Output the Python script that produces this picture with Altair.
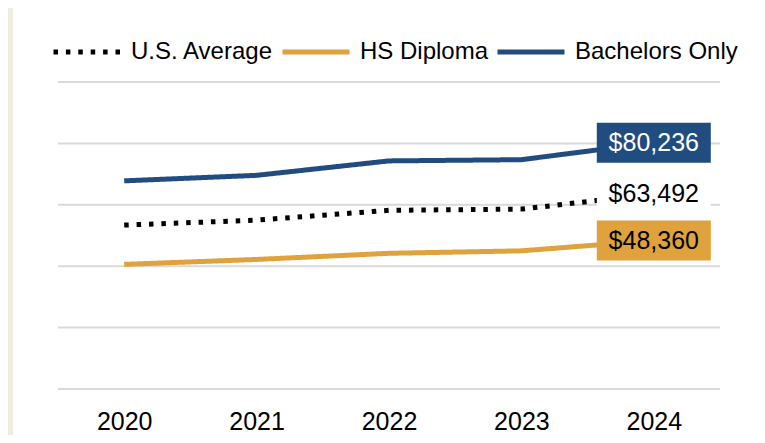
import altair as alt
import pandas as pd

years = ["2020", "2021", "2022", "2023", "2024"]
series_names = ["U.S. Average", "HS Diploma", "Bachelors Only"]
us_average = [53400, 55000, 58200, 58600, 63492]
hs_diploma = [40600, 42200, 44200, 45000, 48360]
bachelors_only = [67800, 69600, 74300, 74700, 80236]
y_ticks = [0, 20000, 40000, 60000, 80000, 100000]

BLUE = "#214C80"
ORANGE = "#DFA23C"
BEIGE = "#EEEBE0"
FONT = "Liberation Sans"

rows = []
for name, vals in zip(series_names, [us_average, hs_diploma, bachelors_only]):
    for yr, v in zip(years, vals):
        rows.append({"year": yr, "series": name, "value": v})
df = pd.DataFrame(rows)
last = df[df["year"] == years[-1]]
grid_df = pd.DataFrame({"value": y_ticks})

x_enc = alt.X("year:O", scale=alt.Scale(type="point", padding=0.5),
              axis=alt.Axis(title=None, domain=False, ticks=False, labelAngle=0,
                            labelFontSize=25, labelFont=FONT, labelColor="black",
                            labelPadding=20, grid=False, zindex=1))
y_scale = alt.Scale(domain=[0, 100000])

panel = alt.Chart(pd.DataFrame({"a": [0]})).mark_rect(color="white").encode(
    x=alt.value(-45), x2=alt.value(700), y=alt.value(-80), y2=alt.value(360)
)

grid = alt.Chart(grid_df).mark_rule(color="#D9D9D9", strokeWidth=2).encode(
    y=alt.Y("value:Q", scale=y_scale, axis=None)
)

leg = alt.Legend(title=None, orient="none", legendX=-7, legendY=-66,
                 direction="horizontal", symbolType="stroke",
                 symbolSize=4489, symbolStrokeWidth=5,
                 labelFontSize=24, labelFont=FONT, labelColor="black",
                 labelOffset=8, columnPadding=-2, padding=0, labelLimit=400)

lines = alt.Chart(df).mark_line(strokeWidth=5, strokeJoin="round").encode(
    x=x_enc,
    y=alt.Y("value:Q", scale=y_scale, axis=None),
    color=alt.Color("series:N",
                    scale=alt.Scale(domain=series_names, range=["black", ORANGE, BLUE]),
                    legend=leg),
    strokeDash=alt.StrokeDash("series:N",
                              scale=alt.Scale(domain=series_names,
                                              range=[[4.5, 7.9], [1, 0], [1, 0]]),
                              legend=leg),
)

boxes = alt.Chart(last).mark_rect(width=114, height=40).encode(
    x=alt.X("year:O"),
    y=alt.Y("value:Q", scale=y_scale),
    fill=alt.Fill("series:N",
                  scale=alt.Scale(domain=series_names, range=["white", ORANGE, BLUE]),
                  legend=None),
)

labels = alt.Chart(last).mark_text(fontSize=25, font=FONT, align="center",
                                   baseline="middle").encode(
    x=alt.X("year:O"),
    y=alt.Y("value:Q", scale=y_scale),
    text=alt.Text("value:Q", format="$,.0f"),
    color=alt.condition(alt.datum.series == "Bachelors Only", alt.value("white"),
                        alt.value("black")),
)

chart = alt.layer(panel, grid, lines, boxes, labels).properties(
    width=662, height=307,
    padding={"left": 50, "top": 74, "right": 37, "bottom": 46},
    autosize=alt.AutoSizeParams(type="none"),
    background=BEIGE,
).configure_view(stroke=None)

chart.save("out.html", embed_options={"renderer": "svg", "actions": False})
